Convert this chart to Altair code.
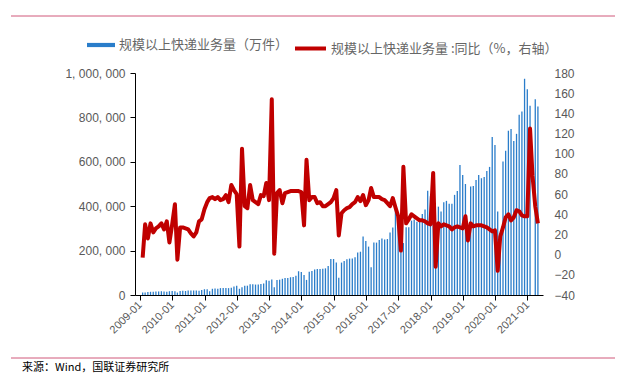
import altair as alt
import pandas as pd

# monthly express volume (万件), Jan 2009 .. Apr 2021 (None = no data)
volume = [
    11000, 11500, 14000, 14500, 14500, 16000, 16000, 17000, 16000, 14500, 17000, 18000,
    17000, 11000, 18000, 19000, 18000, 20000, 20000, 20000, 20000, 19000, 23000, 26000,
    26000, 17000, 28000, 29000, 28000, 31000, 31000, 31000, 31000, 33000, 38000, 42000,
    28000, 35000, 42000, 42000, 48000, 48000, 47000, 47000, 50000, 52000, 66000, 64000,
    70000, 35000, 68000, 69000, 73000, 77000, 77000, 80000, 81000, 87000, 107000, 104000,
    90000, 68000, 105000, 108000, 115000, 117000, 117000, 118000, 120000, 131000, 162000, 162000,
    146000, 78000, 146000, 153000, 161000, 164000, 164000, 170000, 191000, 195000, 263000, 243000,
    218000, 125000, 236000, 236000, 248000, 255000, 250000, 252000, 282000, 304000, 383000, 360000,
    227000, 234000, 305000, 305000, 335000, 340000, 330000, 333000, 365000, 385000, 470000, 445000,
    411000, 206000, 398000, 376000, 418000, 424000, 411000, 411000, 451000, 469000, 586000, 541000,
    500000, 240000, 489000, 491000, 518000, 541000, 526000, 532000, 559000, 577000, 712000, 676000,
    376000, 279000, 601000, 650000, 740000, 748000, 694000, 726000, 812000, 827000, 974000, 927000,
    852000, None, 882000, 849000,
]

# year-on-year growth (%), right axis
yoy = [
    -3, 30, 16, 31, 22, 26, 28, 31, 25, 33, 12, 30,
    50, -5, 27, 27, 26, 25, 21, 18, 22, 33, 35, 45,
    52, 56, 57, 55, 57, 54, 55, 59, 52, 69, 64, 60,
    8, 105, 48, 46, 69, 54, 52, 50, 59, 58, 71, 54,
    154, 1, 61, 64, 51, 61, 62, 63, 63, 63, 63, 62,
    29, 94, 54, 57, 57, 51, 52, 48, 48, 50, 52, 56,
    64, 19, 41, 44, 46, 47, 50, 52, 57, 53, 59, 49,
    54, 66, 57, 57, 57, 55, 54, 51, 48, 56, 47, 38,
    4, 87, 31, 35, 40, 38, 36, 34, 34, 33, 31, 30,
    81, -12, 31, 28, 30, 29, 28, 25, 27, 28, 27, 26,
    38, 14, 31, 28, 29, 29, 29, 28, 27, 25, 23, 24,
    -16, 18, 27, 37, 40, 34, 37, 44, 43, 39, 38, 38,
    125, 78, 48, 31,
]

tick_years = list(range(2009, 2022))
left_ticks = [0, 200000, 400000, 600000, 800000, 1000000]
right_ticks = list(range(-40, 181, 20))
series_names = ["规模以上快递业务量（万件）", "规模以上快递业务量 :同比（%，右轴）"]
source_note = "来源：Wind，国联证券研究所"

month_ends = pd.date_range(start="2009-02-01", periods=len(yoy), freq="MS") - pd.Timedelta(days=1)
df = pd.DataFrame({
    "date": [d.strftime("%Y-%m-%d") for d in month_ends],
    "volume": volume,
    "yoy": yoy,
    "s_bar": series_names[0],
    "s_line": series_names[1],
})


def utc_ms(text):
    return int(pd.Timestamp(text, tz="UTC").value // 1_000_000)


x_domain = [utc_ms("2009-01-01"), utc_ms("2021-05-01")]
x_ticks = [utc_ms(f"{y}-01-01") for y in tick_years]

GREY = "#595959"
NUM_FONT = "Liberation Sans"
CJK_FONT = "Noto Sans CJK SC"

x_enc = alt.X(
    "date:T",
    scale=alt.Scale(type="utc", domain=x_domain),
    axis=alt.Axis(
        title=None,
        values=x_ticks,
        labelExpr="utcFormat(datum.value, '%Y-%m')",
        labelAngle=315,
        labelAlign="right",
        labelBaseline="middle",
        labelPadding=3,
        labelColor=GREY,
        labelFont=NUM_FONT,
        labelFontSize=11,
        tickSize=5,
        tickColor="#000000",
        domainColor="#000000",
        grid=False,
        labelOverlap=False,
    ),
)

base = alt.Chart(df)

bars = base.mark_bar(size=1.3).encode(
    x=x_enc,
    y=alt.Y(
        "volume:Q",
        scale=alt.Scale(domain=[0, 1000000], nice=False),
        axis=alt.Axis(
            title=None,
            values=left_ticks,
            labelExpr="replace(format(datum.value, ','), regexp(',', 'g'), ', ')",
            labelColor=GREY,
            labelFont=NUM_FONT,
            labelFontSize=12,
            tickSize=5,
            tickColor="#000000",
            domainColor="#000000",
            labelPadding=5,
            grid=False,
        ),
    ),
    color=alt.Color(
        "s_bar:N",
        scale=alt.Scale(domain=[series_names[0]], range=["#2A7DCA"]),
        legend=alt.Legend(
            title=None,
            orient="none",
            legendX=-48,
            legendY=-42,
            symbolType="M-1,-0.15H1V0.15H-1Z",
            symbolSize=784,
            symbolStrokeWidth=0,
            labelFont=CJK_FONT,
            labelFontSize=13,
            labelColor="#666666",
            labelOffset=4,
            labelLimit=0,
            padding=0,
        ),
    ),
)

line = base.mark_line(strokeWidth=4, strokeJoin="round").encode(
    x=x_enc,
    y=alt.Y(
        "yoy:Q",
        scale=alt.Scale(domain=[-40, 180], nice=False),
        axis=alt.Axis(
            title=None,
            orient="right",
            values=right_ticks,
            labelColor=GREY,
            labelFont=NUM_FONT,
            labelFontSize=12,
            ticks=True,
            tickSize=8,
            tickOpacity=0,
            domain=False,
            labelPadding=3,
            grid=False,
        ),
    ),
    color=alt.Color(
        "s_line:N",
        scale=alt.Scale(domain=[series_names[1]], range=["#C00000"]),
        legend=alt.Legend(
            title=None,
            orient="none",
            legendX=158,
            legendY=-42,
            symbolType="stroke",
            symbolSize=961,
            symbolStrokeWidth=4,
            labelFont=CJK_FONT,
            labelFontSize=13,
            labelColor="#666666",
            labelOffset=3,
            labelLimit=0,
            padding=0,
        ),
    ),
)

deco = alt.Chart(pd.DataFrame({"k": [0]}))
top_rule = deco.mark_rule(color="#D0587A", strokeWidth=1).encode(
    x=alt.value(-124), x2=alt.value(480), y=alt.value(-57)
)
bottom_rule = deco.mark_rule(color="#D0587A", strokeWidth=1).encode(
    x=alt.value(-124), x2=alt.value(480), y=alt.value(285)
)
source = deco.mark_text(
    align="left", baseline="middle", font=CJK_FONT, fontSize=11, color="#000000"
).encode(x=alt.value(-113), y=alt.value(295), text=alt.value(source_note))

chart = (
    alt.layer(bars, line, top_rule, bottom_rule, source)
    .resolve_scale(y="independent", color="independent")
    .properties(
        width=408,
        height=222,
        padding={"left": 127, "top": 65, "right": 72, "bottom": 82},
        autosize=alt.AutoSizeParams(type="none"),
        background="#ffffff",
    )
    .configure_view(strokeWidth=0)
)

chart.save("out.html", embed_options={"renderer": "svg", "actions": False})
